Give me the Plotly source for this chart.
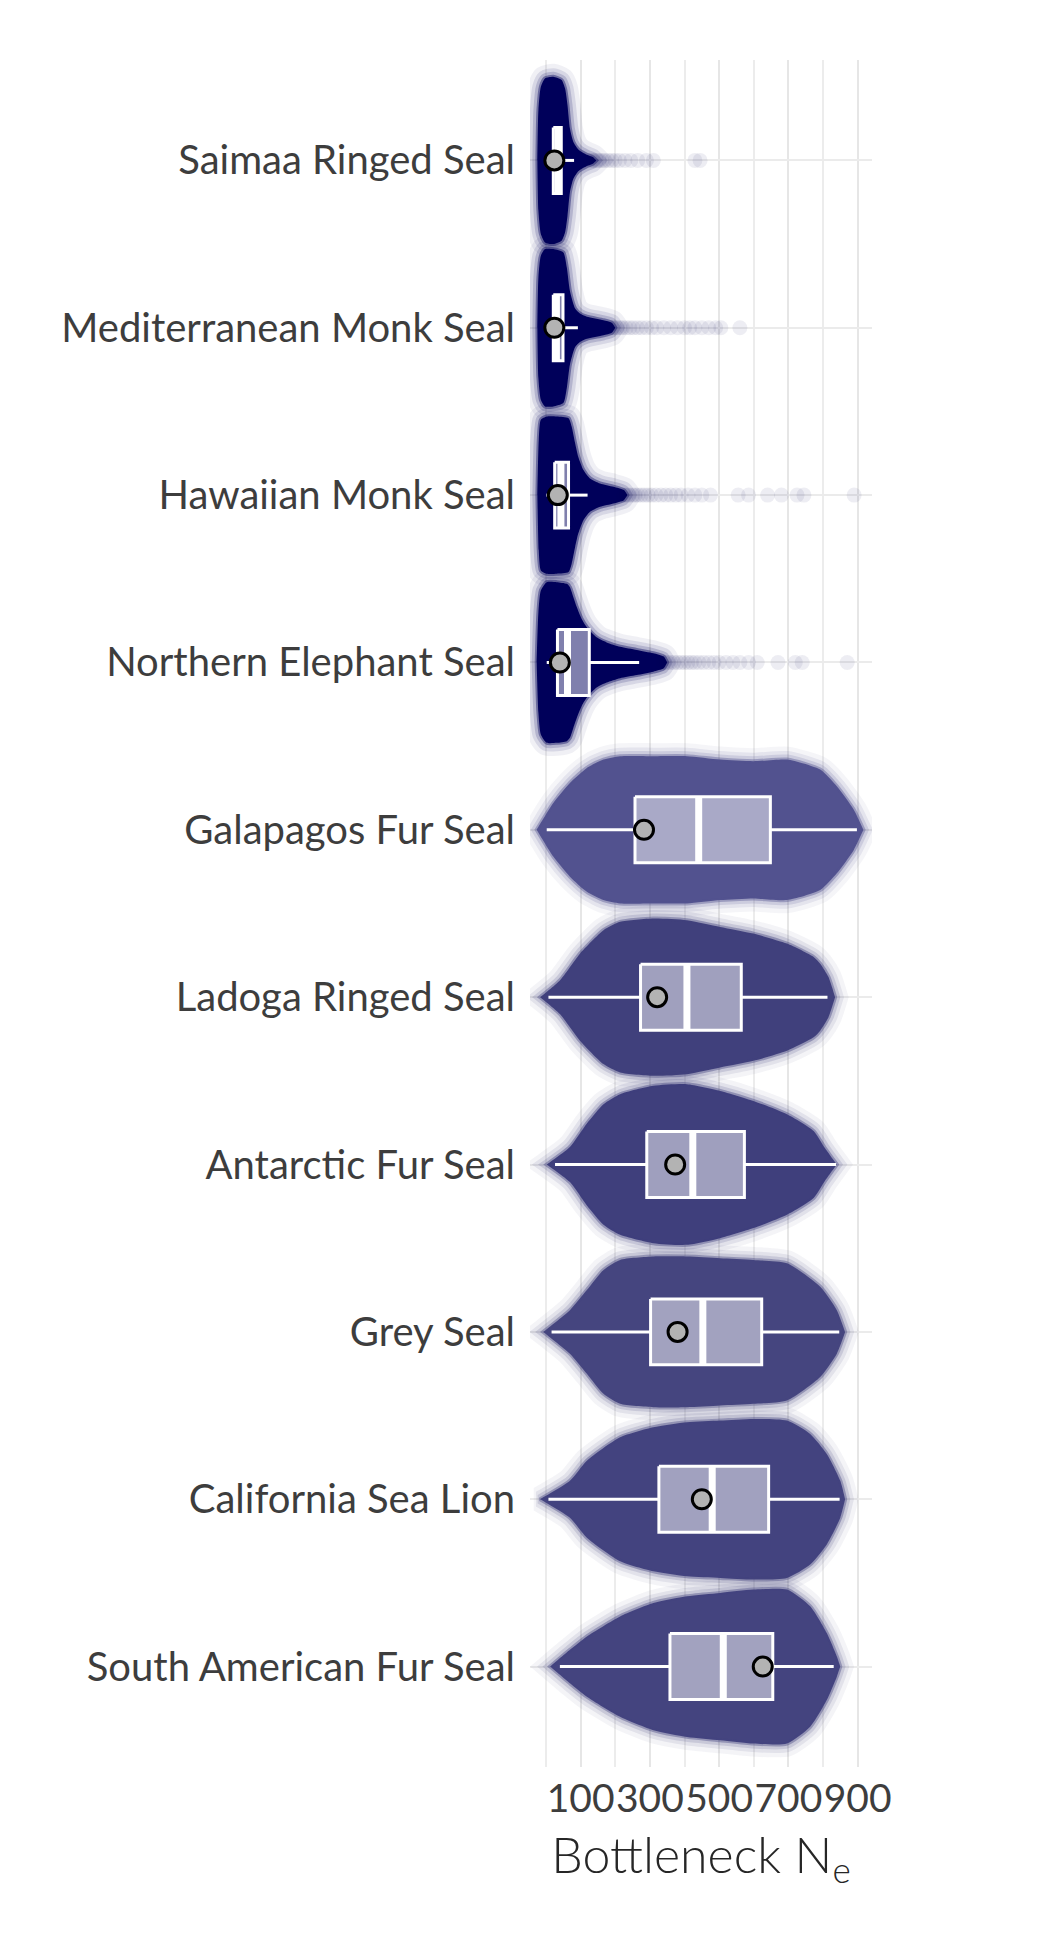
import plotly.graph_objects as go

species = ["Saimaa Ringed Seal", "Mediterranean Monk Seal", "Hawaiian Monk Seal",
           "Northern Elephant Seal", "Galapagos Fur Seal", "Ladoga Ringed Seal",
           "Antarctic Fur Seal", "Grey Seal", "California Sea Lion", "South American Fur Seal"]

# box statistics (Bottleneck Ne)
whisk_lo = [1, 1, 1, 2, 2, 7, 26, 16, 7, 40]
q1 = [21, 21, 25, 33, 257, 273, 291, 302, 326, 358]
median = [35, 30, 43, 62, 441, 407, 424, 453, 480, 512]
q3 = [44, 49, 65, 125, 648, 564, 573, 623, 643, 655]
whisk_hi = [81, 92, 120, 269, 898, 813, 838, 847, 848, 831]
point_est = [24, 24, 34, 40, 283, 321, 373, 380, 450, 626]

# density profiles: Ne values and half-widths (fraction of row)
prof_x = [
    [-25, -22, -15, -3, 21, 45, 55, 62, 69, 79, 94, 118, 135, 145],
    [-25, -22, -15, -3, 21, 50, 60, 69, 84, 98, 118, 166, 190, 200],
    [-25, -21, -15, 2, 31, 65, 74, 84, 93, 108, 127, 156, 195, 225, 235],
    [-27, -22, -15, 2, 31, 60, 69, 79, 89, 103, 118, 146, 175, 214, 262, 310, 340, 350],
    [-27, 21, 69, 118, 166, 214, 310, 407, 503, 599, 696, 792, 840, 889, 917],
    [-17, 40, 98, 166, 214, 310, 407, 503, 599, 696, 773, 792, 816, 835],
    [2, 69, 118, 166, 214, 310, 407, 503, 599, 696, 773, 805, 840],
    [-8, 69, 118, 166, 214, 310, 407, 503, 599, 696, 792, 840, 864],
    [-17, 69, 118, 214, 310, 407, 503, 599, 696, 763, 811, 850, 864],
    [12, 69, 118, 214, 310, 407, 503, 599, 696, 763, 811, 840, 850],
]
prof_hw = [
    [0, 0.30, 0.44, 0.49, 0.50, 0.48, 0.43, 0.33, 0.19, 0.11, 0.064, 0.034, 0.02, 0],
    [0, 0.30, 0.43, 0.47, 0.47, 0.45, 0.36, 0.22, 0.115, 0.085, 0.066, 0.045, 0.03, 0],
    [0, 0.33, 0.45, 0.47, 0.47, 0.46, 0.41, 0.31, 0.23, 0.15, 0.10, 0.07, 0.05, 0.03, 0],
    [0, 0.30, 0.43, 0.48, 0.48, 0.47, 0.45, 0.39, 0.33, 0.26, 0.21, 0.15, 0.12, 0.094, 0.075, 0.055, 0.035, 0],
    [0, 0.16, 0.28, 0.37, 0.42, 0.44, 0.44, 0.44, 0.42, 0.41, 0.42, 0.36, 0.26, 0.12, 0],
    [0, 0.10, 0.26, 0.40, 0.45, 0.47, 0.46, 0.42, 0.38, 0.32, 0.24, 0.20, 0.12, 0],
    [0, 0.105, 0.245, 0.36, 0.42, 0.47, 0.48, 0.44, 0.38, 0.30, 0.20, 0.10, 0],
    [0, 0.13, 0.25, 0.37, 0.43, 0.45, 0.45, 0.44, 0.43, 0.41, 0.27, 0.13, 0],
    [0, 0.11, 0.23, 0.37, 0.43, 0.46, 0.47, 0.48, 0.47, 0.39, 0.27, 0.11, 0],
    [0, 0.10, 0.18, 0.30, 0.38, 0.42, 0.44, 0.46, 0.46, 0.36, 0.20, 0.06, 0],
]
# sparse high values in the right tail
tail_x = [
    [130, 138, 146, 154, 162, 170, 180, 190, 200, 212, 228, 245, 265, 290, 310, 430, 445],
    [190, 198, 206, 214, 222, 232, 242, 252, 264, 276, 290, 305, 320, 340, 360, 380, 400,
     415, 430, 450, 470, 490, 505, 560],
    [225, 233, 241, 250, 258, 266, 275, 285, 295, 305, 318, 332, 346, 360, 375, 390, 410,
     430, 450, 475, 555, 585, 640, 680, 725, 745, 890],
    [340, 350, 360, 370, 380, 390, 400, 410, 420, 430, 442, 455, 470, 485, 500, 520, 540,
     560, 585, 610, 670, 720, 740, 870],
    [], [], [], [], [], [],
]

x_ticks = [100, 300, 500, 700, 900]
x_minor = [0, 200, 400, 600, 800]

fill_rgb = [(0, 0, 90)] * 4 + [(82, 82, 143), (64, 64, 124), (63, 63, 124),
                               (69, 69, 127), (67, 67, 127), (68, 68, 127)]

fig = go.Figure()

for i, name in enumerate(species):
    xs = prof_x[i]
    hs = prof_hw[i]
    px = list(xs) + list(xs[::-1]) + [xs[0]]
    py = [i - h for h in hs] + [i + h for h in hs[::-1]] + [i - hs[0]]
    r, g, b = fill_rgb[i]
    for lw, a in [(26, 0.06), (17, 0.1), (10, 0.16)]:
        fig.add_trace(go.Scatter(x=px, y=py, mode="lines",
                                 line=dict(color=f"rgba({r},{g},{b},{a})", width=lw,
                                           shape="spline", smoothing=0.6),
                                 hoverinfo="skip", showlegend=False))
    fig.add_trace(go.Scatter(x=px, y=py, mode="lines", fill="toself",
                             fillcolor=f"rgb({r},{g},{b})",
                             line=dict(color=f"rgba({r},{g},{b},0.4)", width=4,
                                       shape="spline", smoothing=0.6),
                             hoverinfo="skip", showlegend=False))
    if tail_x[i]:
        fig.add_trace(go.Scatter(x=tail_x[i], y=[i] * len(tail_x[i]), mode="markers",
                                 marker=dict(size=15, color=f"rgba({r},{g},{b},0.07)",
                                             line=dict(width=0)),
                                 hoverinfo="skip", showlegend=False))

ypos = list(range(len(species)))
half_box = 0.197

# boxes
for i in ypos:
    fig.add_trace(go.Scatter(
        x=[q1[i], q3[i], q3[i], q1[i], q1[i]],
        y=[i - half_box, i - half_box, i + half_box, i + half_box, i - half_box],
        mode="lines", fill="toself", fillcolor="rgba(255,255,255,0.5)",
        line=dict(color="white", width=3), hoverinfo="skip", showlegend=False))

# whiskers
wx, wy = [], []
for i in ypos:
    wx += [whisk_lo[i], q1[i], None, q3[i], whisk_hi[i], None]
    wy += [i, i, None, i, i, None]
fig.add_trace(go.Scatter(x=wx, y=wy, mode="lines", line=dict(color="white", width=3),
                         hoverinfo="skip", showlegend=False))

# medians
mx, my = [], []
for i in ypos:
    mx += [median[i], median[i], None]
    my += [i - half_box, i + half_box, None]
fig.add_trace(go.Scatter(x=mx, y=my, mode="lines", line=dict(color="white", width=7),
                         hoverinfo="skip", showlegend=False))

fig.add_trace(go.Scatter(x=point_est, y=ypos, mode="markers",
                         marker=dict(size=19, color="#b3b3b3", line=dict(color="black", width=3)),
                         hoverinfo="skip", showlegend=False))

fig.update_layout(
    width=1050, height=1950,
    margin=dict(l=530, r=178, t=60, b=183),
    paper_bgcolor="white", plot_bgcolor="white",
    font=dict(family="Lato", color="#3d3d3d"),
    xaxis=dict(range=[-46.3, 941.6], tickmode="array", tickvals=x_ticks,
               ticktext=[str(v) for v in x_ticks], tickangle=0,
               ticklabelstandoff=5,
               showgrid=True, gridcolor="#e6e6e6", gridwidth=2,
               minor=dict(tickmode="array", tickvals=x_minor, showgrid=True,
                          gridcolor="#ececec", gridwidth=2),
               zeroline=False, showline=False, ticks="",
               tickfont=dict(family="Lato", size=39, color="#3d3d3d"),
               title=dict(text="Bottleneck N<sub>e</sub>", standoff=18,
                          font=dict(family="Lato", size=50, weight=300, color="#262626"))),
    yaxis=dict(range=[9.6, -0.6], tickmode="array", tickvals=ypos, ticktext=species,
               showgrid=True, gridcolor="#ebebeb", gridwidth=2,
               zeroline=False, showline=False, ticks="",
               ticklabelstandoff=14,
               tickfont=dict(family="Lato", size=40, color="#3d3d3d")),
)

fig.write_html("out.html")
